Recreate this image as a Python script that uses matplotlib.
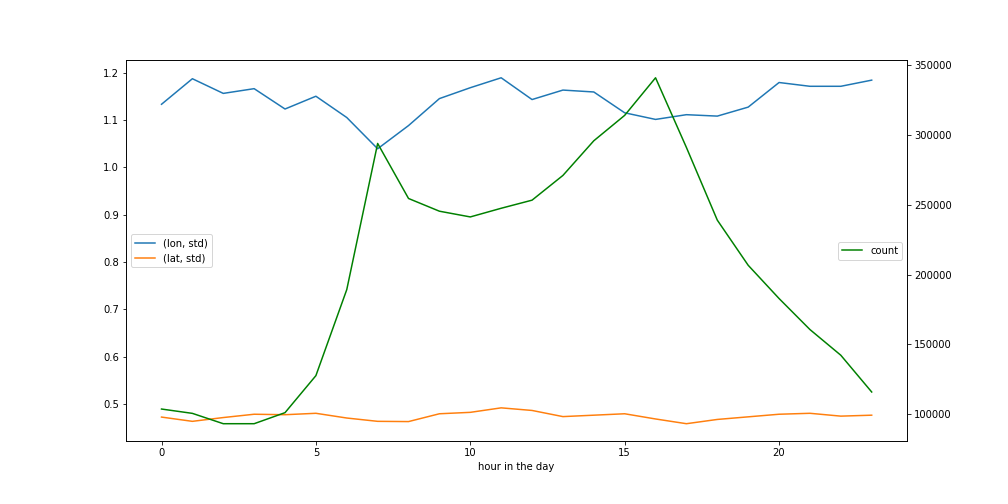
import matplotlib
matplotlib.use("Agg")
import matplotlib.pyplot as plt

hours = list(range(24))

lon_std = [1.133, 1.187, 1.156, 1.166, 1.123, 1.150, 1.105, 1.039,
           1.088, 1.145, 1.168, 1.189, 1.143, 1.163, 1.159, 1.115,
           1.101, 1.111, 1.108, 1.127, 1.179, 1.171, 1.171, 1.184]

lat_std = [0.472, 0.463, 0.471, 0.478, 0.477, 0.480, 0.470, 0.463,
           0.4625, 0.479, 0.482, 0.4915, 0.486, 0.473, 0.476, 0.479,
           0.468, 0.458, 0.467, 0.4725, 0.478, 0.480, 0.474, 0.476]

count = [103800, 100700, 93300, 93300, 101200, 127700, 189300, 293900,
         254500, 245400, 241300, 247500, 253300, 271000, 295800, 314000,
         340900, 291000, 239000, 206700, 182900, 160700, 142300, 116000]

fig, ax = plt.subplots(figsize=(14, 7), dpi=72)
fig.subplots_adjust(left=0.125, right=0.9, top=0.88, bottom=0.125)

ax.plot(hours, lon_std, color="#1f77b4", label="(lon, std)")
ax.plot(hours, lat_std, color="#ff7f0e", label="(lat, std)")
ax.set_xlabel("hour in the day")
ax.legend(loc="center left")

ax2 = ax.twinx()
ax2.plot(hours, count, color="green", label="count")
ax2.legend(loc="center right")

fig.savefig("out.png", dpi=72)
